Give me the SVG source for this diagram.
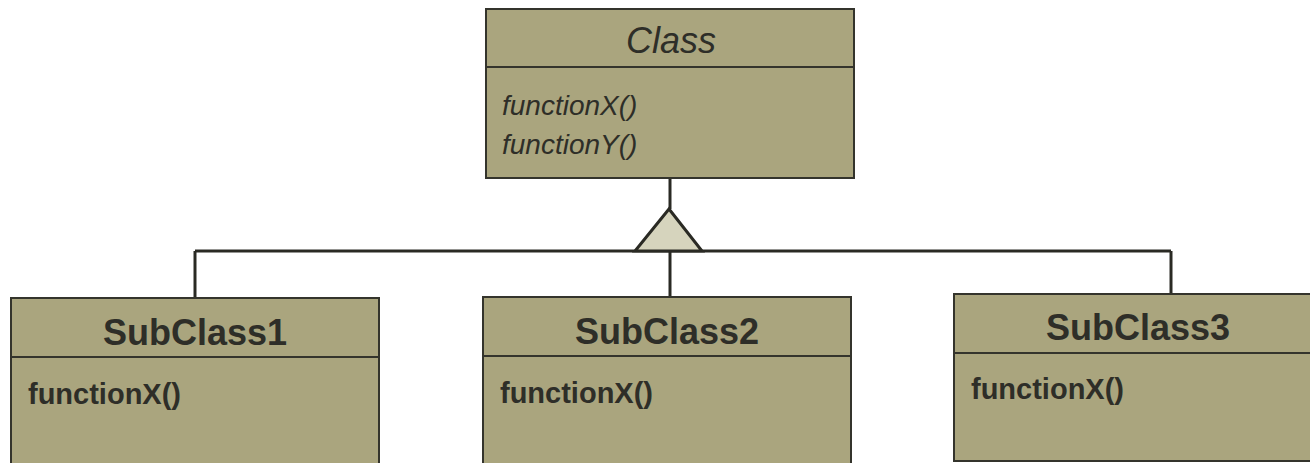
<svg xmlns="http://www.w3.org/2000/svg" width="1310" height="463" viewBox="0 0 1310 463">
<style>
.box{fill:#aaa57e;stroke:#34342c;stroke-width:2}
.div{stroke:#34342c;stroke-width:2}
.line{stroke:#2a2a24;stroke-width:3;fill:none}
.title{font-family:"Liberation Sans",Arial,sans-serif;font-size:36px;font-weight:bold;fill:#2e2e28;text-anchor:middle}
.ctitle{font-family:"Liberation Sans",Arial,sans-serif;font-size:36px;font-style:italic;fill:#2e2e28;text-anchor:middle}
.fn{font-family:"Liberation Sans",Arial,sans-serif;font-size:29px;font-weight:bold;fill:#2e2e28}
.ifn{font-family:"Liberation Sans",Arial,sans-serif;font-size:28px;font-style:italic;fill:#2e2e28}
</style>
<rect width="1310" height="463" fill="#ffffff"/>
<g id="connectors">
<line class="line" x1="670" y1="178" x2="670" y2="209"/>
<line class="line" x1="195" y1="251" x2="1171" y2="251"/>
<line class="line" x1="195" y1="251" x2="195" y2="298"/>
<line class="line" x1="670" y1="251" x2="670" y2="297"/>
<line class="line" x1="1171" y1="251" x2="1171" y2="294"/>
<polygon points="669,209 635,251 702,251" fill="#d6d4bd" stroke="#2a2a24" stroke-width="3" stroke-linejoin="miter"/>
</g>
<g id="Class">
<rect class="box" x="486" y="9" width="368" height="169"/>
<line class="div" x1="486" y1="67" x2="854" y2="67"/>
<text class="ctitle" x="671" y="53">Class</text>
<text class="ifn" x="502" y="115">functionX()</text>
<text class="ifn" x="502" y="154">functionY()</text>
</g>
<g id="SubClass1">
<rect class="box" x="11" y="298" width="368" height="175"/>
<line class="div" x1="11" y1="357" x2="379" y2="357"/>
<text class="title" x="195" y="345">SubClass1</text>
<text class="fn" x="28" y="404">functionX()</text>
</g>
<g id="SubClass2">
<rect class="box" x="483" y="297" width="368" height="175"/>
<line class="div" x1="483" y1="356" x2="851" y2="356"/>
<text class="title" x="667" y="344">SubClass2</text>
<text class="fn" x="500" y="403">functionX()</text>
</g>
<g id="SubClass3">
<rect class="box" x="954" y="294" width="368" height="167"/>
<line class="div" x1="954" y1="353" x2="1322" y2="353"/>
<text class="title" x="1138" y="340">SubClass3</text>
<text class="fn" x="971" y="399">functionX()</text>
</g>
</svg>
